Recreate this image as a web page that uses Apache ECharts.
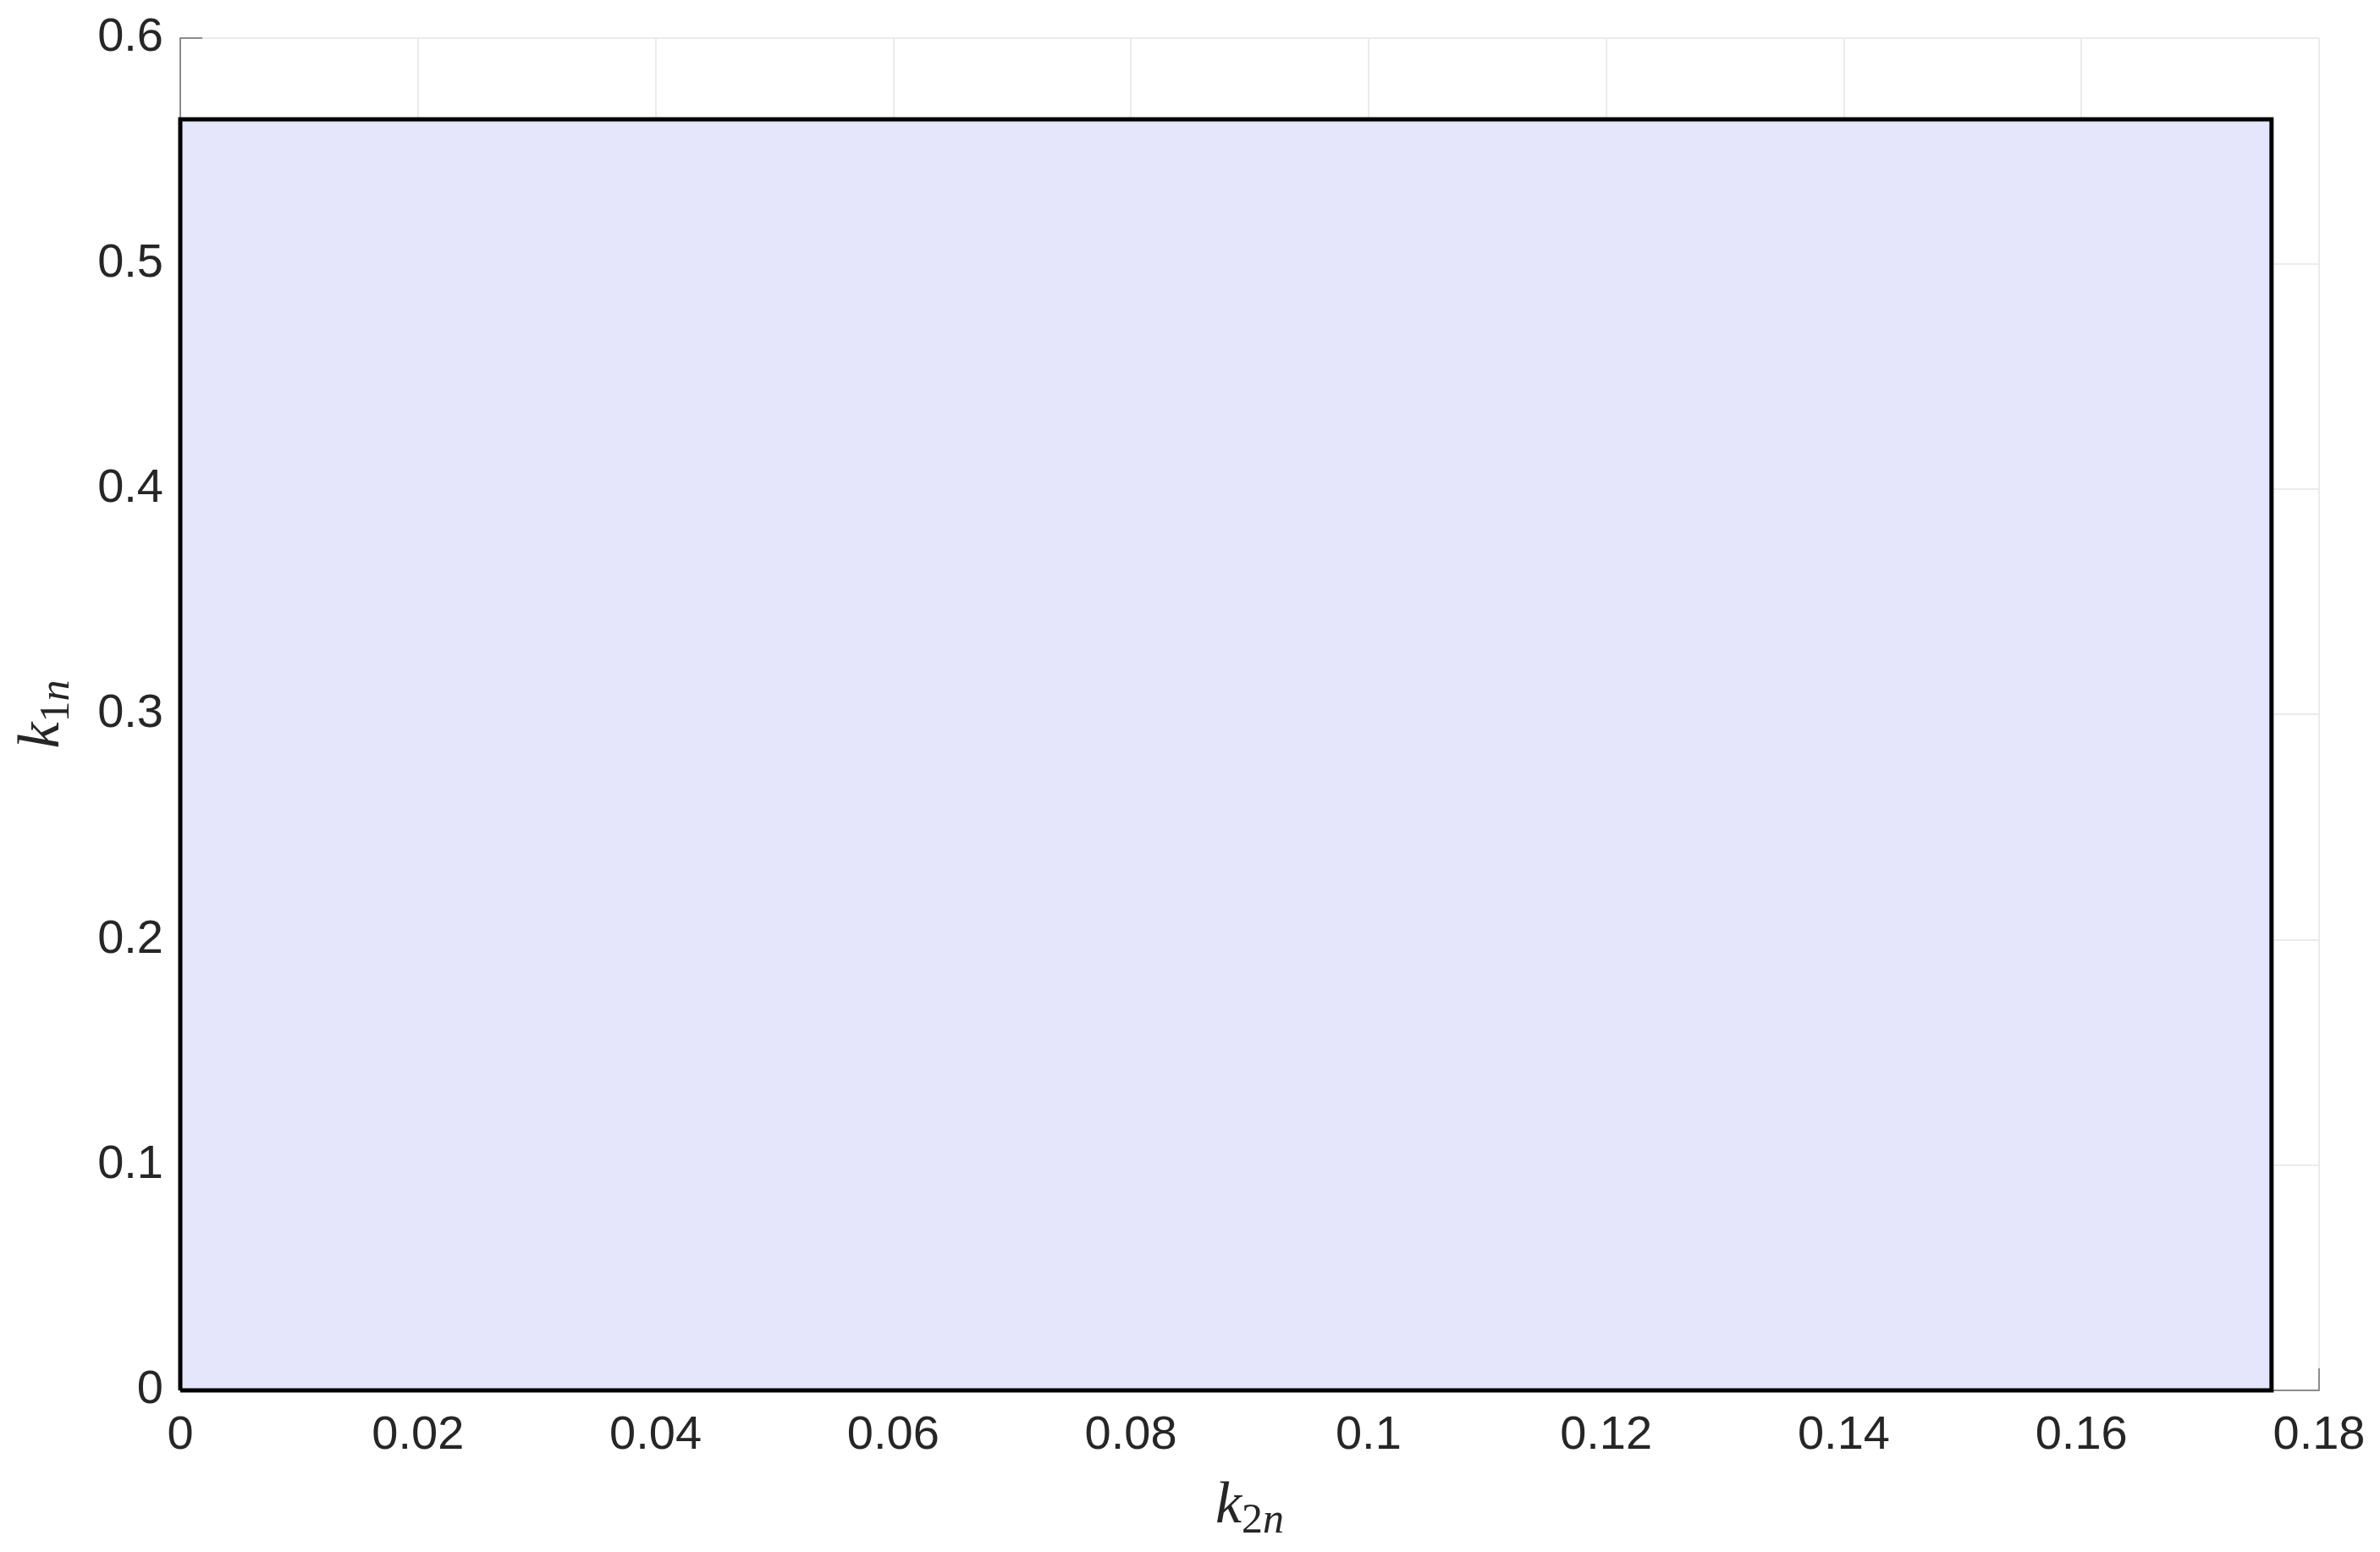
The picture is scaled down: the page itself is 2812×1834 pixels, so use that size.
<!DOCTYPE html>
<html>
<head>
<meta charset="utf-8">
<title>k1n / k2n region</title>
<script src="https://cdn.jsdelivr.net/npm/echarts@6/dist/echarts.min.js"></script>
<style>
  html, body { margin: 0; padding: 0; background: #fff; }
  #chart { width: 2812px; height: 1834px; }
</style>
</head>
<body>
<div id="chart"></div>
<script>
// region corners (k2n along x, k1n along y)
const regionK2n = [0, 0, 0.176, 0.176, 0];
const regionK1n = [0, 0.564, 0.564, 0, 0];

// axis ranges and ticks
const xMin = 0, xMax = 0.18, xStep = 0.02;
const yMin = 0, yMax = 0.6, yStep = 0.1;

const chart = echarts.init(document.getElementById('chart'));

const tickFmt = v => String(+v.toFixed(2));
const labelFont = { fontFamily: 'Liberation Sans, Arial, sans-serif', fontSize: 56, color: '#262626' };
const nameRich = {
  k: { fontFamily: 'Liberation Serif, Times New Roman, serif', fontStyle: 'italic', fontSize: 70, color: '#262626' },
  d: { fontFamily: 'Liberation Serif, Times New Roman, serif', fontSize: 50, color: '#262626', padding: [34, 0, 0, 0] },
  n: { fontFamily: 'Liberation Serif, Times New Roman, serif', fontStyle: 'italic', fontSize: 50, color: '#262626', padding: [34, 0, 0, 0] }
};

const option = {
  backgroundColor: '#fff',
  animation: false,
  grid: { left: 213, right: 72, top: 45, bottom: 191, containLabel: false, outerBoundsMode: 'none' },
  xAxis: {
    type: 'value',
    min: xMin,
    max: xMax,
    interval: xStep,
    name: '{k|k}{d|2}{n|n}',
    nameLocation: 'middle',
    nameGap: 96,
    nameTextStyle: { rich: nameRich },
    axisLine: { show: true, lineStyle: { color: '#8c8c8c', width: 2 } },
    axisTick: { show: true, inside: true, length: 26, lineStyle: { color: '#8c8c8c', width: 2 } },
    axisLabel: Object.assign({ margin: 26, formatter: tickFmt }, labelFont),
    splitLine: { show: true, lineStyle: { color: '#ebebeb', width: 2 } }
  },
  yAxis: {
    type: 'value',
    min: yMin,
    max: yMax,
    interval: yStep,
    name: '{k|k}{d|1}{n|n}',
    nameLocation: 'middle',
    nameGap: 120,
    nameTextStyle: { rich: nameRich },
    axisLine: { show: true, lineStyle: { color: '#8c8c8c', width: 2 } },
    axisTick: { show: true, inside: true, length: 26, lineStyle: { color: '#8c8c8c', width: 2 } },
    axisLabel: Object.assign({ margin: 20, formatter: tickFmt }, labelFont),
    splitLine: { show: true, lineStyle: { color: '#ebebeb', width: 2 } }
  },
  series: [{
    type: 'line',
    data: regionK2n.map((x, i) => [x, regionK1n[i]]),
    showSymbol: false,
    clip: false,
    lineStyle: { color: '#000', width: 5, join: 'miter' },
    areaStyle: { color: '#e5e5fc', opacity: 1 },
    z: 5
  }]
};

chart.setOption(option);
</script>
</body>
</html>
